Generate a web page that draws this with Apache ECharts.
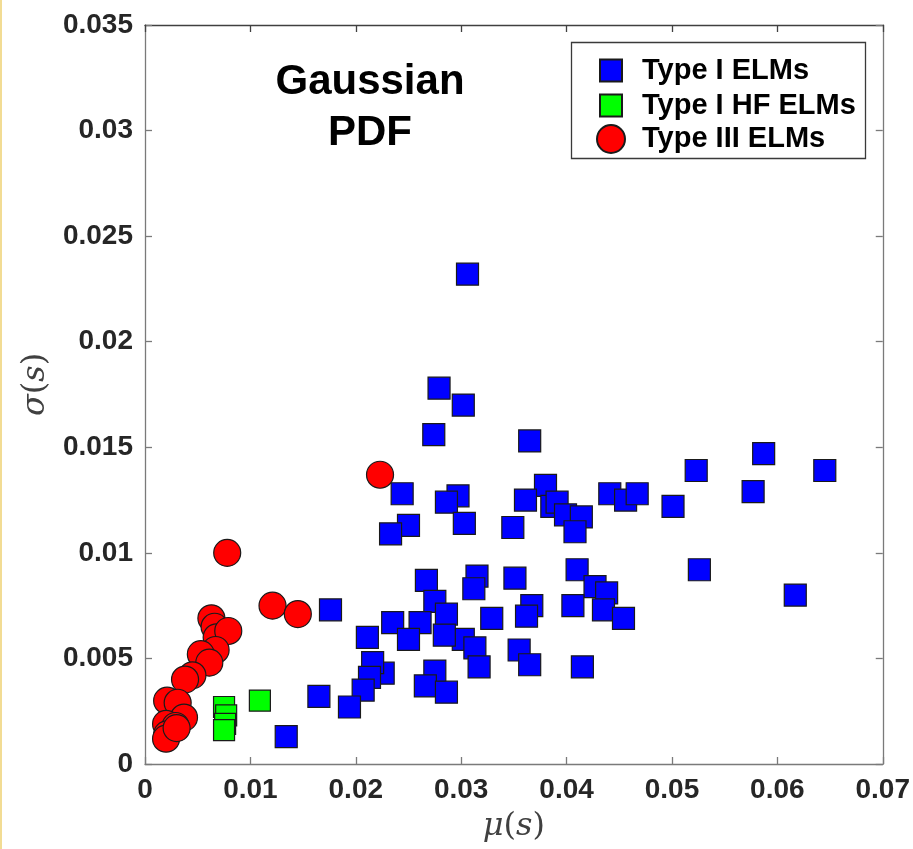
<!DOCTYPE html>
<html>
<head>
<meta charset="utf-8">
<script src="https://cdn.jsdelivr.net/npm/echarts@6/dist/echarts.min.js"></script>
<style>html,body{margin:0;padding:0;background:#fff;}#c{width:913px;height:849px;}</style>
</head>
<body>
<div id="c"></div>
<script>
// ---- data ----
const seriesNames = ['Type I ELMs', 'Type I HF ELMs', 'Type III ELMs'];
const xTickLabels = ['0', '0.01', '0.02', '0.03', '0.04', '0.05', '0.06', '0.07'];
const yTickLabels = ['0', '0.005', '0.01', '0.015', '0.02', '0.025', '0.03', '0.035'];

const typeI = [
  [0.0306, 0.0232], [0.0279, 0.0178], [0.0302, 0.0170], [0.0274, 0.0156], [0.0365, 0.0153],
  [0.0244, 0.0128], [0.0297, 0.0127], [0.0286, 0.0124], [0.0303, 0.0114], [0.0250, 0.0113],
  [0.0233, 0.0109], [0.0380, 0.0132], [0.0361, 0.0125], [0.0386, 0.0122], [0.0391, 0.0124],
  [0.0399, 0.0118], [0.0414, 0.0117], [0.0408, 0.0110], [0.0349, 0.0112], [0.0441, 0.0128],
  [0.0456, 0.0125], [0.0467, 0.0128], [0.0501, 0.0122], [0.0523, 0.0139], [0.0577, 0.0129],
  [0.0587, 0.0147], [0.0645, 0.0139], [0.0526, 0.0092], [0.0617, 0.0080], [0.0410, 0.0092],
  [0.0427, 0.0084], [0.0438, 0.0081], [0.0406, 0.0075], [0.0435, 0.0073], [0.0454, 0.0069],
  [0.0415, 0.0046], [0.0367, 0.0075], [0.0362, 0.0070], [0.0351, 0.0088], [0.0329, 0.0069],
  [0.0315, 0.0089], [0.0312, 0.0083], [0.0355, 0.0054], [0.0365, 0.0047], [0.0302, 0.0059],
  [0.0313, 0.0055], [0.0317, 0.0046], [0.0267, 0.0087], [0.0275, 0.0077], [0.0286, 0.0071],
  [0.0284, 0.0061], [0.0261, 0.0067], [0.0235, 0.0067], [0.0250, 0.0059], [0.0211, 0.0060],
  [0.0275, 0.0044], [0.0266, 0.0037], [0.0286, 0.0034], [0.0226, 0.0043], [0.0216, 0.0048],
  [0.0213, 0.0041], [0.0207, 0.0035], [0.0194, 0.0027], [0.0165, 0.0032], [0.0134, 0.0013],
  [0.0176, 0.0073]
];
const typeIHF = [
  [0.0075, 0.0027], [0.0077, 0.0023], [0.0076, 0.0019], [0.0075, 0.0016], [0.0109, 0.0030]
];
const typeIII = [
  [0.0223, 0.0137], [0.0078, 0.0100], [0.0121, 0.0075], [0.0145, 0.0071], [0.0063, 0.0069],
  [0.0066, 0.0065], [0.0068, 0.0060], [0.0079, 0.0063], [0.0067, 0.0054], [0.0053, 0.0052],
  [0.0061, 0.0048], [0.0045, 0.0042], [0.0038, 0.0040], [0.0021, 0.0030], [0.0031, 0.0029],
  [0.0037, 0.0022], [0.0020, 0.0019], [0.0029, 0.0018], [0.0021, 0.0014], [0.0020, 0.0012],
  [0.0030, 0.0017]
];

// ---- chart ----
const chart = echarts.init(document.getElementById('c'), null, {renderer: 'canvas'});
const sansFont = 'Liberation Sans, Arial, sans-serif';
const serifFont = 'DejaVu Serif, Liberation Serif, serif';
const tickFont = {fontSize: 28, fontWeight: 'bold', color: '#262626', fontFamily: sansFont};
const xMin = 0, xMax = 0.07, xStep = 0.01;
const yMin = 0, yMax = 0.035, yStep = 0.005;

function axisBase(color) {
  return {
    axisLine: {show: true, onZero: false, lineStyle: {color: color, width: 1.3}},
    axisTick: {show: true, inside: true, length: 7, lineStyle: {color: color, width: 1.3}},
    splitLine: {show: false}
  };
}
function legendRow(name, top, left, size, gap) {
  return {
    data: [name], orient: 'vertical', left: left, top: top, padding: 0,
    itemWidth: size, itemHeight: size, z: 5,
    textStyle: {fontSize: 29, fontWeight: 'bold', color: '#000', padding: [0, 0, 0, gap], fontFamily: sansFont}
  };
}
const axisNameRich = {
  i: {fontSize: 32, fontStyle: 'italic', fontFamily: serifFont, color: '#404040'},
  n: {fontSize: 32, fontFamily: serifFont, color: '#404040'}
};

const option = {
  backgroundColor: '#ffffff',
  animation: false,
  title: {
    text: 'Gaussian\nPDF',
    left: 370, top: 57, textAlign: 'center', padding: 0,
    textStyle: {fontSize: 42, fontWeight: 'bold', color: '#000', lineHeight: 51, fontFamily: sansFont}
  },
  grid: {left: 145, right: 30, top: 25, bottom: 85, containLabel: false},
  graphic: [
    {type: 'rect', left: 0, top: 0, shape: {x: 0, y: 0, width: 2, height: 849}, style: {fill: '#f2dc94'}, z: 0},
    {type: 'rect', shape: {x: 571.5, y: 42.5, width: 294, height: 116}, style: {fill: '#fff', stroke: '#3a3a3a', lineWidth: 1.3}, z: 1}
  ],
  legend: [
    legendRow(seriesNames[0], 56, 599, 22, 15),
    legendRow(seriesNames[1], 91, 599, 22, 15),
    legendRow(seriesNames[2], 124, 596, 28, 12)
  ],
  xAxis: [
    Object.assign(axisBase('#7a7a7a'), {
      type: 'value', min: xMin, max: xMax, interval: xStep, position: 'bottom',
      name: '{i|μ}{n|(}{i|s}{n|)}', nameLocation: 'middle', nameGap: 47,
      nameTextStyle: {rich: axisNameRich},
      axisLabel: Object.assign({margin: 12, formatter: v => xTickLabels[Math.round((v - xMin) / xStep)] || ''}, tickFont)
    }),
    Object.assign(axisBase('#404040'), {
      type: 'value', min: xMin, max: xMax, interval: xStep, position: 'top',
      axisLabel: {show: false}
    })
  ],
  yAxis: [
    Object.assign(axisBase('#7a7a7a'), {
      type: 'value', min: yMin, max: yMax, interval: yStep, position: 'left',
      name: '{i|σ}{n|(}{i|s}{n|)}', nameLocation: 'middle', nameGap: 82, nameRotate: 90,
      nameTextStyle: {rich: axisNameRich, padding: [0, 0, 0, 20]},
      axisLabel: Object.assign({margin: 12, formatter: v => yTickLabels[Math.round((v - yMin) / yStep)] || ''}, tickFont)
    }),
    Object.assign(axisBase('#7a7a7a'), {
      type: 'value', min: yMin, max: yMax, interval: yStep, position: 'right',
      axisLabel: {show: false}
    })
  ],
  series: [
    {
      name: seriesNames[0], type: 'scatter', data: typeI, symbol: 'rect', symbolSize: 22,
      itemStyle: {color: '#0000ff', borderColor: '#1a1a1a', borderWidth: 1.2, opacity: 1}, z: 2
    },
    {
      name: seriesNames[1], type: 'scatter', data: typeIHF, symbol: 'rect', symbolSize: 21,
      itemStyle: {color: '#00ff00', borderColor: '#1a1a1a', borderWidth: 1.2, opacity: 1}, z: 3
    },
    {
      name: seriesNames[2], type: 'scatter', data: typeIII, symbol: 'circle', symbolSize: 27,
      itemStyle: {color: '#ff0000', borderColor: '#1a1a1a', borderWidth: 1.2, opacity: 1}, z: 4
    }
  ]
};
chart.setOption(option);
</script>
</body>
</html>
